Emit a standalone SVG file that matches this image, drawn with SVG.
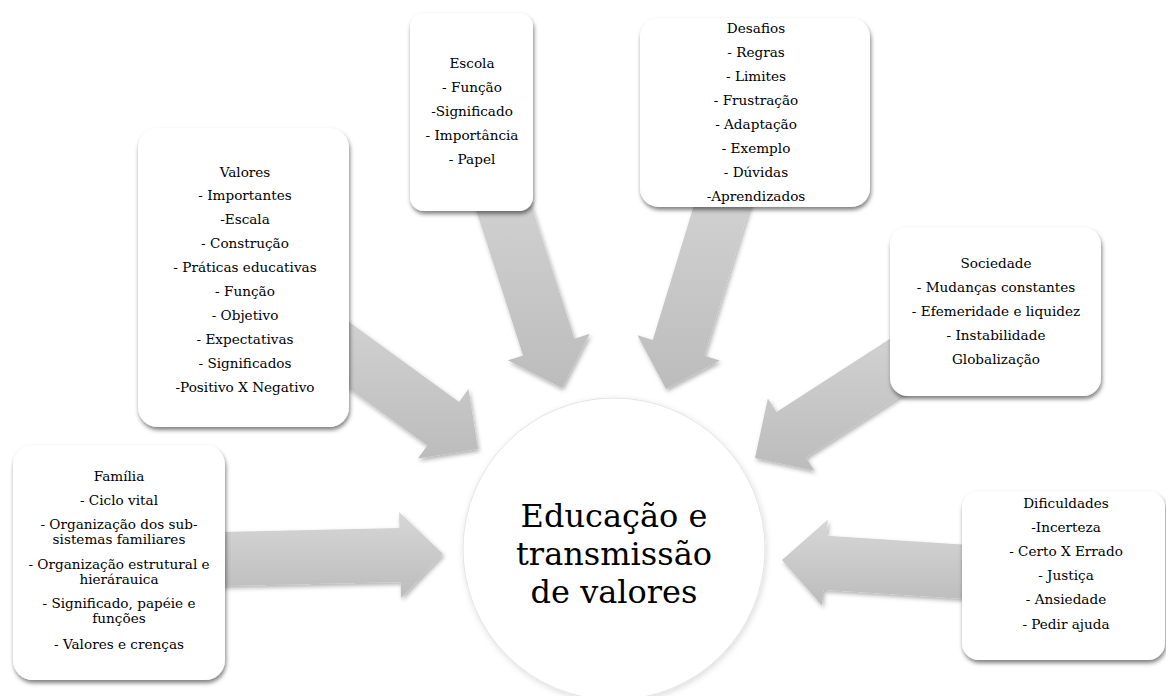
<svg xmlns="http://www.w3.org/2000/svg" width="1166" height="696" viewBox="0 0 1166 696">
  <defs>
    <style>
      .t { font-family: "DejaVu Serif", "Liberation Serif", serif; font-size: 13.6px; fill: #000; text-anchor: middle; }
      .c { font-family: "DejaVu Serif", "Liberation Serif", serif; font-size: 32px; fill: #000; text-anchor: middle; }
      .box { fill: #fff; filter: url(#boxsh); }
      .arr { fill: url(#ag); filter: url(#arrsh); }
    </style>
    <linearGradient id="ag" x1="0" y1="0" x2="0" y2="1">
      <stop offset="0" stop-color="#d7d7d7"/>
      <stop offset="1" stop-color="#bcbcbc"/>
    </linearGradient>
    <filter id="boxsh" x="-10%" y="-10%" width="125%" height="125%">
      <feDropShadow dx="1" dy="3" stdDeviation="2" flood-color="#000" flood-opacity="0.5"/>
    </filter>
    <filter id="arrsh" x="-10%" y="-10%" width="125%" height="125%">
      <feDropShadow dx="1.5" dy="2.5" stdDeviation="2" flood-color="#000" flood-opacity="0.3"/>
    </filter>
    <filter id="circsh" x="-10%" y="-10%" width="125%" height="125%">
      <feDropShadow dx="1" dy="2" stdDeviation="3" flood-color="#000" flood-opacity="0.15"/>
    </filter>
  </defs>
  <rect width="1166" height="696" fill="#fff"/>

  <g id="connectors">
    <polygon class="arr" points="192.45,532.68 399.40,527.98 399.04,511.99 443,554 400.99,597.97 400.62,581.97 193.68,586.67"/>
    <polygon class="arr" points="291.62,280.21 459.08,401.89 468.48,388.94 478,449 417.94,458.52 427.34,445.57 259.88,323.89"/>
    <polygon class="arr" points="510.85,141.80 574.47,338.78 589.70,333.86 562,388 507.86,360.30 523.09,355.38 459.47,158.40"/>
    <polygon class="arr" points="764.91,157.81 704.39,355.77 719.69,360.45 666,389 637.45,335.31 652.75,339.99 713.27,142.03"/>
    <polygon class="arr" points="979.77,345.27 805.77,457.41 814.43,470.85 755,458 767.85,398.57 776.51,412.01 950.51,299.87"/>
    <polygon class="arr" points="1029.74,603.07 823.17,589.71 822.14,605.68 782,560 827.68,519.86 826.65,535.83 1033.22,549.19"/>
  </g>

  <g id="center">
    <circle cx="614" cy="549" r="151" fill="#fff" stroke="#e4e4e4" stroke-width="1" filter="url(#circsh)"/>
    <text class="c" x="614" y="527">Educação e</text>
    <text class="c" x="614" y="565">transmissão</text>
    <text class="c" x="614" y="603">de valores</text>
  </g>

  <g id="familia">
    <rect class="box" x="13" y="445" width="212" height="235" rx="20"/>
    <text class="t" x="119" y="481">Família</text>
    <text class="t" x="119" y="505">- Ciclo vital</text>
    <text class="t" x="119" y="529">- Organização dos sub-</text>
    <text class="t" x="119" y="543.5">sistemas familiares</text>
    <text class="t" x="119" y="568.5">- Organização estrutural e</text>
    <text class="t" x="119" y="583.5">hierárauica</text>
    <text class="t" x="119" y="608">- Significado, papéie e</text>
    <text class="t" x="119" y="623">funções</text>
    <text class="t" x="119" y="649">- Valores e crenças</text>
  </g>

  <g id="valores">
    <rect class="box" x="138" y="128" width="211" height="299" rx="20"/>
    <text class="t" x="245" y="176.5">Valores</text>
    <text class="t" x="245" y="200.4">- Importantes</text>
    <text class="t" x="245" y="224.3">-Escala</text>
    <text class="t" x="245" y="248.2">- Construção</text>
    <text class="t" x="245" y="272.1">- Práticas educativas</text>
    <text class="t" x="245" y="296">- Função</text>
    <text class="t" x="245" y="319.9">- Objetivo</text>
    <text class="t" x="245" y="343.8">- Expectativas</text>
    <text class="t" x="245" y="367.7">- Significados</text>
    <text class="t" x="245" y="391.6">-Positivo X Negativo</text>
  </g>

  <g id="escola">
    <rect class="box" x="410" y="13" width="123" height="198" rx="14"/>
    <text class="t" x="472" y="67.5">Escola</text>
    <text class="t" x="472" y="91.5">- Função</text>
    <text class="t" x="472" y="115.5">-Significado</text>
    <text class="t" x="472" y="139.5">- Importância</text>
    <text class="t" x="472" y="163.5">- Papel</text>
  </g>

  <g id="desafios">
    <rect class="box" x="640" y="18" width="230" height="189" rx="19"/>
    <text class="t" x="756" y="32.5">Desafios</text>
    <text class="t" x="756" y="56.5">- Regras</text>
    <text class="t" x="756" y="80.5">- Limites</text>
    <text class="t" x="756" y="104.5">- Frustração</text>
    <text class="t" x="756" y="128.5">- Adaptação</text>
    <text class="t" x="756" y="152.5">- Exemplo</text>
    <text class="t" x="756" y="176.5">- Dúvidas</text>
    <text class="t" x="756" y="200.5">-Aprendizados</text>
  </g>

  <g id="sociedade">
    <rect class="box" x="890" y="227" width="211" height="169" rx="18"/>
    <text class="t" x="996" y="267.5">Sociedade</text>
    <text class="t" x="996" y="291.5">- Mudanças constantes</text>
    <text class="t" x="996" y="315.5">- Efemeridade e liquidez</text>
    <text class="t" x="996" y="339.5">- Instabilidade</text>
    <text class="t" x="996" y="363.5">Globalização</text>
  </g>

  <g id="dificuldades">
    <rect class="box" x="962" y="491" width="203" height="169" rx="17"/>
    <text class="t" x="1066" y="507.5">Dificuldades</text>
    <text class="t" x="1066" y="531.7">-Incerteza</text>
    <text class="t" x="1066" y="555.9">- Certo X Errado</text>
    <text class="t" x="1066" y="580.1">- Justiça</text>
    <text class="t" x="1066" y="604.3">- Ansiedade</text>
    <text class="t" x="1066" y="628.5">- Pedir ajuda</text>
  </g>
</svg>
